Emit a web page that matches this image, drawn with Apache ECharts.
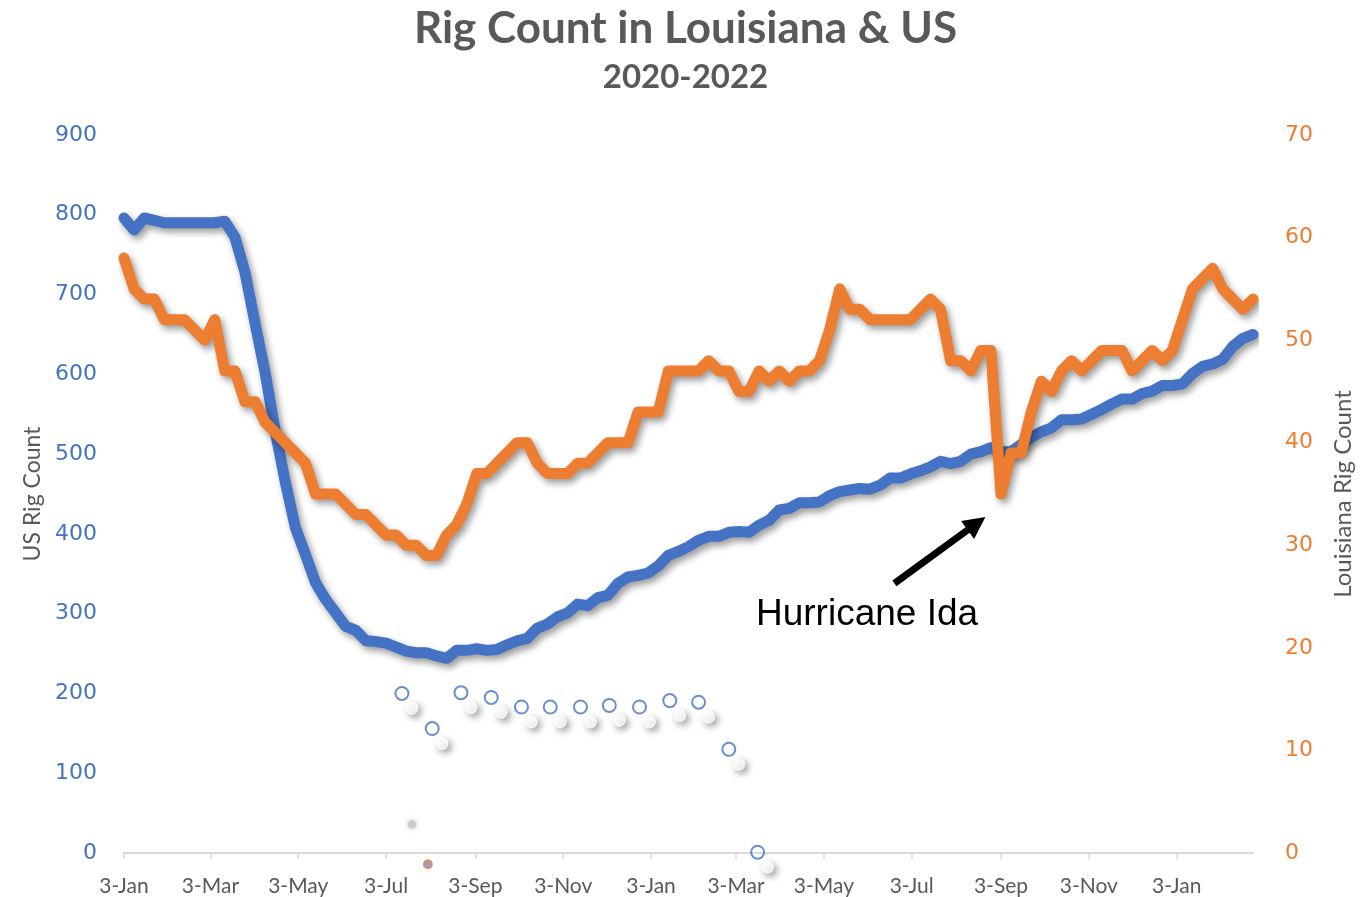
<!DOCTYPE html>
<html>
<head>
<meta charset="utf-8">
<script src="https://cdn.jsdelivr.net/npm/echarts@6/dist/echarts.min.js"></script>
<style>
  html, body { margin: 0; padding: 0; background: #ffffff; }
  #chart { width: 1371px; height: 897px; }
</style>
</head>
<body>
<div id="chart"></div>
<script>
// Weekly rig counts, one value per Friday starting 3 Jan 2020
const firstWeek = '2020-01-03';
const lastDay = '2022-02-25';

const usRigs = [
  796, 781, 796, 793, 790, 790, 790, 790, 790, 790, 792, 772, 728, 664, 602, 529,
  465, 408, 374, 339, 318, 301, 284, 279, 266, 265, 263, 258, 253, 251, 251, 247,
  244, 254, 254, 256, 254, 255, 261, 266, 269, 282, 287, 296, 301, 312, 310, 320,
  323, 338, 346, 348, 351, 360, 373, 378, 384, 392, 397, 397, 402, 403, 402, 411,
  417, 430, 432, 439, 439, 440, 448, 453, 455, 457, 456, 461, 470, 470, 475, 479,
  484, 491, 488, 491, 500, 503, 508, 503, 503, 512, 521, 528, 533, 543, 543, 544,
  550, 556, 563, 569, 569, 576, 579, 586, 586, 588, 601, 610, 613, 619, 635, 645,
  650
];

const laRigs = [
  58, 55, 54, 54, 52, 52, 52, 51, 50, 52, 47, 47, 44, 44, 42, 41,
  40, 39, 38, 35, 35, 35, 34, 33, 33, 32, 31, 31, 30, 30, 29, 29,
  31, 32, 34, 37, 37, 38, 39, 40, 40, 38, 37, 37, 37, 38, 38, 39,
  40, 40, 40, 43, 43, 43, 47, 47, 47, 47, 48, 47, 47, 45, 45, 47,
  46, 47, 46, 47, 47, 48, 51, 55, 53, 53, 52, 52, 52, 52, 52, 53,
  54, 53, 48, 48, 47, 49, 49, 35, 39, 39, 43, 46, 45, 47, 48, 47,
  48, 49, 49, 49, 47, 48, 49, 48, 49, 52, 55, 56, 57, 55, 54, 53,
  54
];

// Stray point markers (day offset from 3 Jan 2020, US scale value)
const markerDays = [193, 214, 234, 255, 276, 296, 317, 337, 358, 379, 399, 420, 440];
const markerValues = [200, 156, 201, 195, 183, 183, 183, 185, 183, 191, 189, 130, 1];
const greyDot = [200, 36];
const orangeDot = [211, -14];

// Hurricane Ida arrow, tail and head on the US scale
const arrowTail = [535, 338];
const arrowHead = [592, 413];

const monthNames = ['Jan','Feb','Mar','Apr','May','Jun','Jul','Aug','Sep','Oct','Nov','Dec'];

// One category per calendar day so the axis behaves like a date axis
const days = [];
{
  const d = new Date(firstWeek + 'T00:00:00Z');
  const end = new Date(lastDay + 'T00:00:00Z');
  while (d <= end) {
    days.push(new Date(d.getTime()));
    d.setUTCDate(d.getUTCDate() + 1);
  }
}
const dayLabels = days.map(d => d.getUTCDate() + '-' + monthNames[d.getUTCMonth()]);
const isMajor = (idx) => days[idx].getUTCDate() === 3 && days[idx].getUTCMonth() % 2 === 0;

const usData = usRigs.map((v, i) => [i * 7, v]);
const laData = laRigs.map((v, i) => [i * 7, v]);
const markerData = markerDays.map((d, i) => [d, markerValues[i]]);

const blue = '#4472C4';
const orange = '#ED7D31';
const grey = '#595959';

const chart = echarts.init(document.getElementById('chart'), null, { renderer: 'canvas' });

const lineShadow = {
  shadowColor: 'rgba(0,0,0,0.4)',
  shadowBlur: 7,
  shadowOffsetX: 3,
  shadowOffsetY: 4
};

chart.setOption({
  animation: false,
  backgroundColor: '#ffffff',
  title: {
    text: 'Rig Count in Louisiana & US',
    subtext: '2020-2022',
    left: 'center',
    top: 2,
    itemGap: 10,
    textStyle: { fontFamily: 'Lato', fontWeight: 'bold', fontSize: 44, color: grey },
    subtextStyle: { fontFamily: 'Lato', fontWeight: 'bold', fontSize: 33, color: grey }
  },
  grid: { left: 124, right: 118, top: 135, bottom: 44, containLabel: false },
  xAxis: {
    type: 'category',
    data: dayLabels,
    boundaryGap: false,
    axisLine: { show: true, lineStyle: { color: '#D9D9D9', width: 2 } },
    axisTick: { show: true, length: 6, interval: isMajor, lineStyle: { color: '#D9D9D9', width: 1.5 } },
    axisLabel: {
      interval: isMajor,
      margin: 23,
      color: grey,
      fontFamily: 'Lato',
      fontSize: 21
    },
    splitLine: { show: false }
  },
  yAxis: [
    {
      type: 'value',
      min: 0, max: 900, interval: 100,
      name: 'US Rig Count',
      nameLocation: 'middle',
      nameGap: 80,
      nameRotate: 90,
      nameTextStyle: { fontFamily: 'Lato', fontSize: 23, color: grey },
      axisLine: { show: false },
      axisTick: { show: false },
      splitLine: { show: false },
      axisLabel: { color: blue, fontFamily: 'DejaVu Sans', fontSize: 22, margin: 27 }
    },
    {
      type: 'value',
      min: 0, max: 70, interval: 10,
      name: 'Louisiana Rig Count',
      nameLocation: 'middle',
      nameGap: 78,
      nameRotate: 90,
      nameTextStyle: { fontFamily: 'Lato', fontSize: 24, color: grey },
      axisLine: { show: false },
      axisTick: { show: false },
      splitLine: { show: false },
      axisLabel: { color: orange, fontFamily: 'DejaVu Sans', fontSize: 22, margin: 32 }
    }
  ],
  series: [
    {
      name: 'US Rig Count',
      type: 'line',
      yAxisIndex: 0,
      data: usData,
      showSymbol: false,
      symbol: 'none',
      lineStyle: Object.assign({ color: blue, width: 11, join: 'round', cap: 'round' }, lineShadow),
      z: 2,
      markLine: {
        silent: true,
        symbol: ['none', 'triangle'],
        symbolSize: [22, 22],
        label: { show: false },
        lineStyle: { color: '#000000', width: 7, type: 'solid', shadowBlur: 0, shadowOffsetX: 0, shadowOffsetY: 0 },
        data: [[{ coord: arrowTail }, { coord: arrowHead }]]
      }
    },
    {
      name: 'Louisiana Rig Count',
      type: 'line',
      yAxisIndex: 1,
      data: laData,
      showSymbol: false,
      symbol: 'none',
      lineStyle: Object.assign({ color: orange, width: 11, join: 'round', cap: 'round' }, lineShadow),
      z: 3
    },
    {
      name: 'markerShade',
      type: 'scatter',
      yAxisIndex: 0,
      data: markerData,
      clip: false,
      symbol: 'circle',
      symbolSize: 13,
      symbolOffset: [10, 15],
      itemStyle: {
        color: '#ffffff',
        shadowColor: 'rgba(0,0,0,0.5)',
        shadowBlur: 7,
        shadowOffsetX: 3,
        shadowOffsetY: 3
      },
      z: 4
    },
    {
      name: 'markers',
      type: 'scatter',
      yAxisIndex: 0,
      data: markerData,
      clip: false,
      symbol: 'circle',
      symbolSize: 13,
      itemStyle: { color: 'rgba(255,255,255,0)', borderColor: blue, borderWidth: 2 },
      z: 5
    },
    {
      name: 'greyDot',
      type: 'scatter',
      yAxisIndex: 0,
      data: [greyDot],
      clip: false,
      symbolSize: 9,
      itemStyle: { color: 'rgba(160,160,160,0.5)', shadowColor: 'rgba(120,120,120,0.7)', shadowBlur: 6 },
      z: 4
    },
    {
      name: 'orangeDot',
      type: 'scatter',
      yAxisIndex: 0,
      data: [orangeDot],
      clip: false,
      symbolSize: 8,
      itemStyle: { color: '#6C8FD0', borderColor: orange, borderWidth: 2 },
      z: 5
    }
  ],
  graphic: [
    {
      type: 'text',
      left: 756,
      top: 596,
      style: {
        text: 'Hurricane Ida',
        fontFamily: 'Liberation Sans',
        fontSize: 37,
        fill: '#000000'
      },
      silent: true
    }
  ]
});
</script>
</body>
</html>
